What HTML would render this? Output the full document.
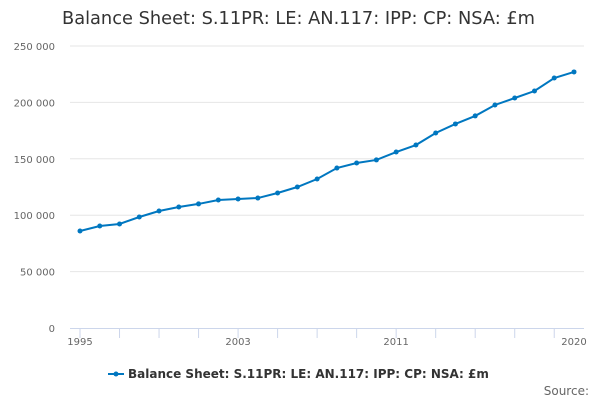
<!DOCTYPE html>
<html><head><meta charset="utf-8"><style>
body{margin:0;background:#fff;font-family:"DejaVu Sans",sans-serif}
svg{display:block;font-family:"DejaVu Sans",sans-serif}
</style></head><body>
<svg width="600" height="400">
<text x="62" y="24" font-size="17.8" fill="#333">Balance Sheet: S.11PR: LE: AN.117: IPP: CP: NSA: £m</text>
<g id="grid"></g>
<g id="xaxis"></g>
<g id="yaxis"></g>
<g id="series"></g>
<g>
<line x1="108" y1="374" x2="124" y2="374" stroke="#0077c0" stroke-width="2"/>
<circle cx="116" cy="374" r="2.5" fill="#0077c0"/>
<text x="128" y="378" font-size="12" font-weight="bold" fill="#333">Balance Sheet: S.11PR: LE: AN.117: IPP: CP: NSA: £m</text>
</g>
<text x="589" y="395" font-size="12" fill="#666" text-anchor="end">Source:</text>
</svg>
<script>
const years=[1995,1996,1997,1998,1999,2000,2001,2002,2003,2004,2005,2006,2007,2008,2009,2010,2011,2012,2013,2014,2015,2016,2017,2018,2019,2020];
const values=[86000,90400,92200,98400,103700,107300,110000,113500,114400,115200,119700,125000,132100,141800,146300,149000,156000,162200,172900,180900,188000,197700,203900,210100,221600,227000];
const yTicks=[0,50000,100000,150000,200000,250000];
const yTickLabels=["0","50 000","100 000","150 000","200 000","250 000"];
const xLabels=[1995,2003,2011,2020];
const NS="http://www.w3.org/2000/svg";
const x=v=>80+(v-1995)*(574-80)/25;
const y=v=>328-v*(328-46)/250000;
function mk(p,t,a){const e=document.createElementNS(NS,t);for(const k in a)e.setAttribute(k,a[k]);p.appendChild(e);return e;}
const g=document.getElementById('grid'),xa=document.getElementById('xaxis'),ya=document.getElementById('yaxis'),s=document.getElementById('series');
yTicks.forEach((t,i)=>{
 if(t>0){const l=mk(g,'line',{x1:70,x2:584,y1:y(t),y2:y(t),stroke:'#e6e6e6'});
 
 }
 const tx=mk(ya,'text',{x:55,y:y(t)+4,'font-size':10,fill:'#666','text-anchor':'end'});tx.textContent=yTickLabels[i];
 
 
});
mk(xa,'line',{x1:70,x2:584,y1:328.5,y2:328.5,stroke:'#ccd6eb'});
for(let yr=1995;yr<=2020;yr+=2){mk(xa,'line',{x1:x(yr),x2:x(yr),y1:328,y2:338,stroke:'#ccd6eb'});}
xLabels.forEach(v=>{const t=mk(xa,'text',{x:x(v),y:345,'font-size':10,fill:'#666','text-anchor':'middle'});t.textContent=v;
 
 });
const pl=mk(s,'polyline',{points:years.map((yr,i)=>x(yr)+','+y(values[i])).join(' '),fill:'none',stroke:'#0077c0','stroke-width':2});


years.forEach((yr,i)=>{const c=mk(s,'circle',{cx:x(yr),cy:y(values[i]),r:2.5,fill:'#0077c0'});
 
 });
</script>
</body></html>
